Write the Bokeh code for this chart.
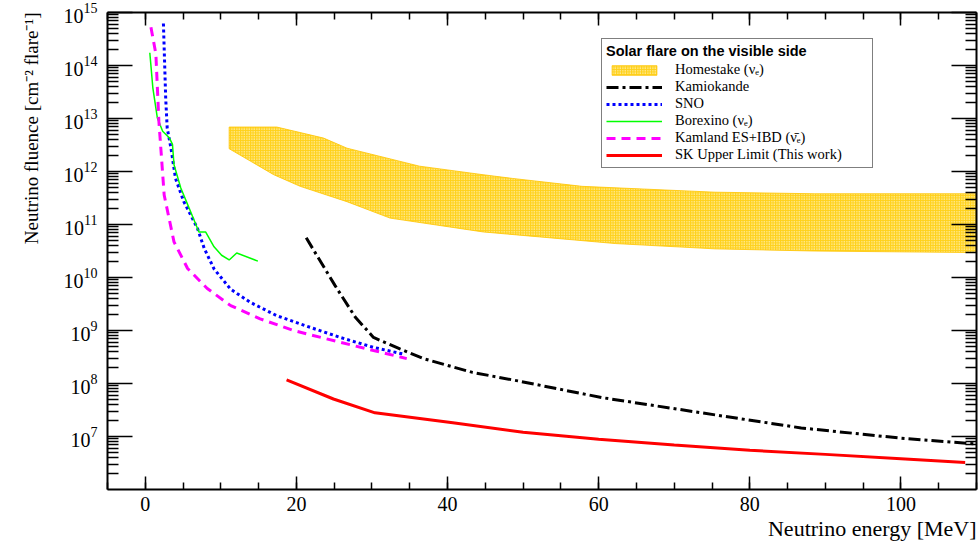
from bokeh.plotting import figure
from bokeh.models import (LinearAxis, LogAxis, SingleIntervalTicker, FixedTicker,
                          Title, Legend, LegendItem, Range1d, CustomJSTickFormatter)
from bokeh.embed import file_html
from bokeh.resources import INLINE

# ---------------- data ----------------
homestake_top_e = [11.1, 17.4, 23.6, 26.7, 36.3, 44.7, 48.6, 57.8, 75.4, 88.6, 110.0]
homestake_top_f = [6.9e12, 6.9e12, 4.27e12, 2.75e12, 1.26e12, 8.7e11, 7.4e11, 5.25e11, 4.07e11, 3.8e11, 3.8e11]
homestake_bot_e = [11.1, 17.0, 20.5, 26.7, 32.4, 44.7, 62.2, 75.4, 88.5, 110.0]
homestake_bot_f = [2.69e12, 8.7e11, 5.25e11, 2.69e11, 1.32e11, 7.24e10, 4.37e10, 3.47e10, 3.16e10, 2.95e10]

kamiokande_e = [21.3, 25.1, 27.8, 30.2, 33.7, 36.8, 43.3, 49.3, 60.5, 73.6, 86.8, 100.0, 110.0]
kamiokande_f = [5.6e10, 7.1e9, 1.78e9, 7.4e8, 4.5e8, 2.95e8, 1.62e8, 1.12e8, 5.4e7, 2.8e7, 1.45e7, 9.3e6, 7.2e6]

sno_e = [2.4, 2.7, 2.9, 3.4, 4.0, 5.1, 6.9, 7.8, 9.1, 11.3, 13.9, 17.4, 21.8, 25.8, 30.2, 34.3]
sno_f = [6.2e14, 2.45e13, 6.6e12, 2.75e12, 7.4e11, 2.7e11, 8.5e10, 3.55e10, 1.45e10, 6.0e9,
         3.4e9, 1.9e9, 1.15e9, 7.4e8, 4.8e8, 3.55e8]

borexino_e = [0.6, 1.0, 1.6, 2.3, 3.2, 3.6, 3.8, 4.7, 5.8, 7.1, 8.0, 9.1, 10.1, 11.1, 12.1, 14.9]
borexino_f = [1.74e14, 3.8e13, 1.02e13, 5.75e12, 4.27e12, 3.24e12, 1.35e12, 4.9e11, 2.04e11,
              7.2e10, 7.2e10, 3.8e10, 2.63e10, 2.14e10, 2.9e10, 2.04e10]

kamland_e = [0.75, 1.4, 1.8, 2.5, 3.8, 5.6, 8.2, 11.3, 15.2, 19.6, 25.8, 30.2, 34.6]
kamland_f = [5.25e14, 1.66e14, 8.9e12, 3.6e11, 4.7e10, 1.48e10, 6.2e9, 2.95e9, 1.66e9, 1.0e9,
             6.0e8, 4.2e8, 2.95e8]

sk_e = [18.7, 24.9, 30.4, 40.7, 50.0, 60.0, 70.0, 80.0, 90.0, 100.0, 108.5]
sk_f = [1.17e8, 5.1e7, 2.8e7, 1.82e7, 1.2e7, 8.9e6, 6.9e6, 5.5e6, 4.6e6, 3.8e6, 3.24e6]

y_major = [1e7, 1e8, 1e9, 1e10, 1e11, 1e12, 1e13, 1e14, 1e15]

legend_title = "Solar flare on the visible side"
labels = ["Homestake (νₑ)", "Kamiokande", "SNO", "Borexino (νₑ)",
          "Kamland ES+IBD (ν̄ₑ)", "SK Upper Limit (This work)"]
x_title = "Neutrino energy [MeV]"
y_title = "Neutrino fluence [cm⁻² flare⁻¹]"

# ---------------- figure ----------------
SERIF = "Liberation Serif"
p = figure(width=978, height=541, y_axis_type="log",
           x_range=Range1d(-5, 110), y_range=Range1d(1e6, 1e15),
           output_backend="svg", toolbar_location=None,
           min_border_left=103, min_border_right=2, min_border_top=12, min_border_bottom=10)
p.grid.visible = False
p.outline_line_color = None
p.background_fill_color = "white"
p.border_fill_color = "white"

x_ticker = SingleIntervalTicker(interval=20, num_minor_ticks=4)
minor_y = [m * 10 ** k for k in range(6, 15) for m in range(2, 10)]
y_ticker = FixedTicker(ticks=y_major, minor_ticks=minor_y)
blank = CustomJSTickFormatter(code="return ''")


def style_axis(ax, major_len, minor_len, labels_on=True):
    ax.axis_line_width = 2
    ax.axis_line_color = "black"
    ax.major_tick_line_width = 1.5
    ax.minor_tick_line_width = 1.5
    ax.major_tick_line_color = "black"
    ax.minor_tick_line_color = "black"
    ax.major_tick_in = major_len
    ax.major_tick_out = 0
    ax.minor_tick_in = minor_len
    ax.minor_tick_out = 0
    ax.major_label_text_font = SERIF
    ax.major_label_text_color = "black"
    ax.major_label_text_font_size = "20px"
    if not labels_on:
        ax.formatter = blank
        ax.major_label_standoff = 0


xa = p.xaxis[0]
xa.ticker = x_ticker
style_axis(xa, 13, 7)
xa.major_label_standoff = 7

ya = p.yaxis[0]
ya.ticker = y_ticker
style_axis(ya, 25, 11)
ya.major_label_standoff = 10

top_axis = LinearAxis(ticker=x_ticker)
style_axis(top_axis, 13, 7, labels_on=False)
p.add_layout(top_axis, "above")

right_axis = LogAxis(ticker=y_ticker)
style_axis(right_axis, 25, 11, labels_on=False)
p.add_layout(right_axis, "right")

p.add_layout(Title(text=x_title, align="right", text_font=SERIF, text_font_size="22px",
                   text_font_style="normal", text_color="black", standoff=1), "below")
p.add_layout(Title(text=y_title, align="right", text_font=SERIF, text_font_size="19px",
                   text_font_style="normal", text_color="black", standoff=37), "left")

# ---------------- glyphs ----------------
band_x = homestake_top_e + homestake_bot_e[::-1]
band_y = homestake_top_f + homestake_bot_f[::-1]
r_home = p.patch(band_x, band_y, fill_color="#FFCC00", fill_alpha=0.9,
                 line_color="#FFC400", line_width=1, line_alpha=0.8,
                 hatch_pattern="dot", hatch_color="white", hatch_scale=2.5, hatch_weight=1.2)

r_kam = p.line(kamiokande_e, kamiokande_f, line_color="black", line_width=3,
               line_dash="12 4 3 4")
r_sno = p.line(sno_e, sno_f, line_color="#0000FF", line_width=3, line_dash="3 3")
r_bor = p.line(borexino_e, borexino_f, line_color="#00FF00", line_width=1.5)
r_kl = p.line(kamland_e, kamland_f, line_color="#FF00FF", line_width=3, line_dash="9 6")
r_sk = p.line(sk_e, sk_f, line_color="#FF0000", line_width=3)

legend = Legend(items=[LegendItem(label=labels[0], renderers=[r_home]),
                       LegendItem(label=labels[1], renderers=[r_kam]),
                       LegendItem(label=labels[2], renderers=[r_sno]),
                       LegendItem(label=labels[3], renderers=[r_bor]),
                       LegendItem(label=labels[4], renderers=[r_kl]),
                       LegendItem(label=labels[5], renderers=[r_sk])],
                location=(494, 321), title=legend_title,
                title_text_font="Liberation Sans", title_text_font_style="bold",
                title_text_font_size="14.5px", title_text_color="black", title_standoff=2,
                label_text_font=SERIF, label_text_font_size="14.5px", label_text_color="black",
                label_text_line_height=1.0,
                glyph_width=56, glyph_height=12, label_height=14, spacing=0,
                label_standoff=13, label_width=193, padding=4, margin=0,
                border_line_color="black", border_line_width=1.5,
                background_fill_color="white", background_fill_alpha=1.0)
p.add_layout(legend)

open("out.html", "w").write(file_html(p, INLINE))
